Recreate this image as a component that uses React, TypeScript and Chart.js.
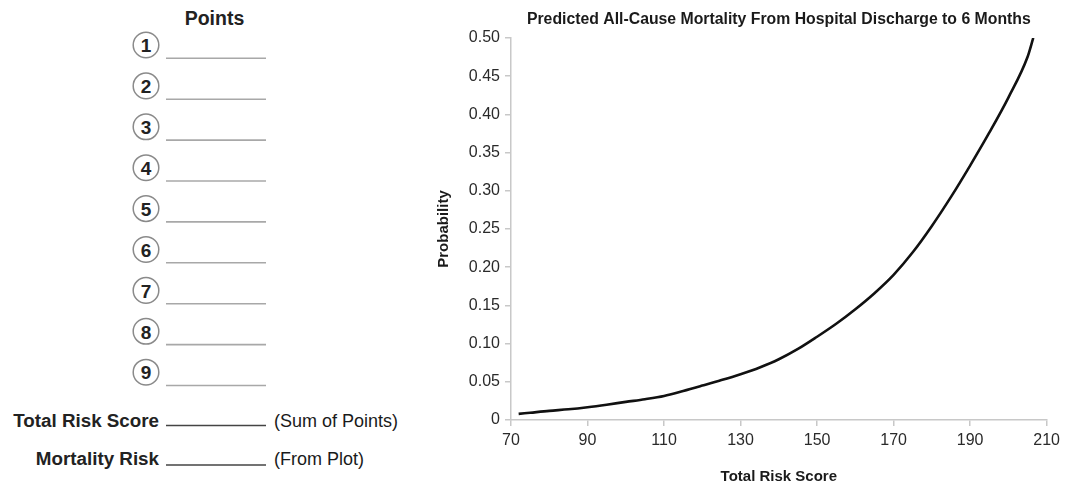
import React, { useEffect, useRef } from "react";
import { Chart, registerables } from "chart.js";

Chart.register(...registerables);

// ---- Data ----
const riskScores = [72, 75, 80, 85, 90, 95, 100, 105, 110, 115, 120, 125, 130, 135, 140, 145, 150, 155, 160, 165, 170, 175, 180, 185, 190, 195, 200, 205, 206.5];
const probabilities = [0.008, 0.0095, 0.012, 0.014, 0.0167, 0.02, 0.0237, 0.0272, 0.0315, 0.038, 0.045, 0.0522, 0.06, 0.0688, 0.0795, 0.093, 0.109, 0.126, 0.145, 0.166, 0.19, 0.2195, 0.254, 0.292, 0.333, 0.376, 0.422, 0.475, 0.5];

const xTickValues = [70, 90, 110, 130, 150, 170, 190, 210];
const yTickValues = [0, 0.05, 0.1, 0.15, 0.2, 0.25, 0.3, 0.35, 0.4, 0.45, 0.5];

const chartTitle = "Predicted All-Cause Mortality From Hospital Discharge to 6 Months";
const xAxisTitle = "Total Risk Score";
const yAxisTitle = "Probability";

const pointItems = ["1", "2", "3", "4", "5", "6", "7", "8", "9"];
const summaryRows = [
  { label: "Total Risk Score", note: "(Sum of Points)" },
  { label: "Mortality Risk", note: "(From Plot)" },
];

const FONT = "'Liberation Sans', Arial, Helvetica, sans-serif";

function RiskChart() {
  const canvasRef = useRef<HTMLCanvasElement | null>(null);

  useEffect(() => {
    if (!canvasRef.current) return;
    const points = riskScores.map((x, i) => ({ x, y: probabilities[i] }));
    const chart = new Chart(canvasRef.current, {
      type: "line",
      data: {
        datasets: [
          {
            data: points,
            borderColor: "#111111",
            borderWidth: 2.6,
            pointRadius: 0,
            fill: false,
            cubicInterpolationMode: "monotone",
          },
        ],
      },
      options: {
        responsive: false,
        animation: false,
        layout: { padding: { left: 0, right: 15, top: 0, bottom: 0 } },
        plugins: {
          legend: { display: false },
          tooltip: { enabled: false },
          title: {
            display: true,
            text: chartTitle,
            fullSize: false,
            color: "#1a1a1a",
            font: { family: FONT, size: 15.8, weight: "bold" },
            padding: { top: 10, bottom: 9 },
          },
        },
        scales: {
          x: {
            type: "linear",
            min: 70,
            max: 210,
            afterBuildTicks: (scale: any) => {
              scale.ticks = xTickValues.map((v) => ({ value: v }));
            },
            afterFit: (scale: any) => {
              scale.height = 68;
            },
            ticks: {
              color: "#2a2a2a",
              font: { family: FONT, size: 16 },
              padding: 5,
              maxRotation: 0,
              callback: (v: any) => String(v),
            },
            grid: {
              display: true,
              drawOnChartArea: false,
              drawTicks: true,
              tickLength: 6,
              color: "#c8c8c8",
              lineWidth: 1.5,
            },
            border: { display: true, color: "#c8c8c8", width: 1.5 },
            title: {
              display: true,
              text: xAxisTitle,
              color: "#1a1a1a",
              font: { family: FONT, size: 15, weight: "bold" },
              padding: { top: 0, bottom: 2 },
            },
          },
          y: {
            type: "linear",
            min: 0,
            max: 0.5,
            afterBuildTicks: (scale: any) => {
              scale.ticks = yTickValues.map((v) => ({ value: v }));
            },
            afterFit: (scale: any) => {
              scale.width = 91;
            },
            ticks: {
              color: "#2a2a2a",
              font: { family: FONT, size: 16 },
              padding: 5,
              callback: (v: any) => (Number(v) === 0 ? "0" : Number(v).toFixed(2)),
            },
            grid: {
              display: true,
              drawOnChartArea: false,
              drawTicks: true,
              tickLength: 6,
              color: "#c8c8c8",
              lineWidth: 1.5,
            },
            border: { display: true, color: "#c8c8c8", width: 1.5 },
            title: {
              display: true,
              text: yAxisTitle,
              color: "#1a1a1a",
              font: { family: FONT, size: 15, weight: "bold" },
              padding: { top: 15, bottom: 0 },
            },
          },
        },
      },
    });
    return () => chart.destroy();
  }, []);

  return <canvas ref={canvasRef} width={645} height={488} style={{ display: "block" }} />;
}

function PointsForm() {
  const startY = 45;
  const step = 40.9;
  const baselines = [426.5, 465.3];
  const ruleY = [425.5, 465];
  return (
    <svg width={420} height={488} style={{ display: "block" }}>
      <text x={214.5} y={25} textAnchor="middle" fontFamily={FONT} fontSize={19.5} fontWeight="bold" fill="#222">
        Points
      </text>
      {pointItems.map((n, i) => {
        const cy = startY + step * i;
        return (
          <g key={n}>
            <circle cx={146} cy={cy} r={12.8} fill="#fff" stroke="#8a8a8a" strokeWidth={1.5} />
            <text x={146} y={cy + 7.2} textAnchor="middle" fontFamily={FONT} fontSize={19} fontWeight="bold" fill="#222">
              {n}
            </text>
            <line x1={166} x2={266} y1={cy + 13.3} y2={cy + 13.3} stroke="#a8a8a8" strokeWidth={1.6} />
          </g>
        );
      })}
      {summaryRows.map((r, i) => (
        <g key={r.label}>
          <text x={159} y={baselines[i]} textAnchor="end" fontFamily={FONT} fontSize={18.8} fontWeight="bold" fill="#222">
            {r.label}
          </text>
          <line x1={166} x2={266} y1={ruleY[i]} y2={ruleY[i]} stroke="#444" strokeWidth={1.5} />
          <text x={274} y={baselines[i]} fontFamily={FONT} fontSize={18} fill="#1a1a1a">
            {r.note}
          </text>
        </g>
      ))}
    </svg>
  );
}

export default function App() {
  return (
    <div style={{ position: "fixed", left: 0, top: 0, width: 1065, height: 488, background: "#fff" }}>
      <div style={{ position: "absolute", left: 0, top: 0 }}>
        <PointsForm />
      </div>
      <div style={{ position: "absolute", left: 420, top: 0 }}>
        <RiskChart />
      </div>
    </div>
  );
}
